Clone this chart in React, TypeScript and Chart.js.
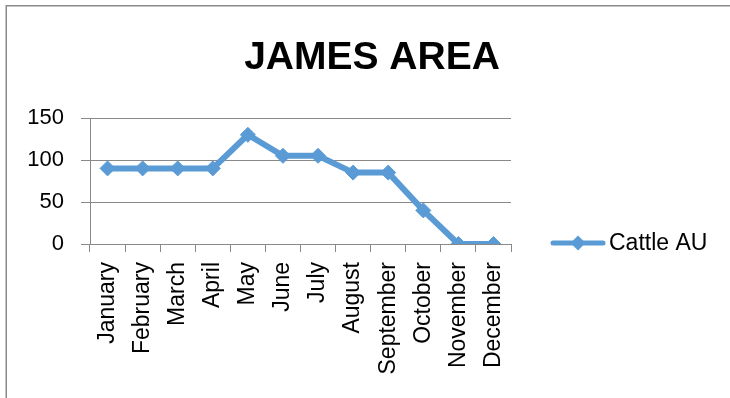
import React, { useEffect, useRef } from "react";
import { Chart, registerables } from "chart.js";

Chart.register(...registerables);

const chartTitle = "JAMES AREA";
const months = [
  "January", "February", "March", "April", "May", "June",
  "July", "August", "September", "October", "November", "December",
];
const seriesName = "Cattle AU";
const cattleAU = [90, 90, 90, 90, 130, 105, 105, 85, 85, 40, 0, 0];
const yMin = 0;
const yMax = 150;
const yStep = 50;

const BLUE = "#5B9BD5";
const GRID = "#898989";
const FONT = "'Liberation Sans', Arial, sans-serif";

const decorPlugin = {
  id: "decor",
  beforeDraw(chart: any) {
    const ctx = chart.ctx;
    ctx.save();
    ctx.fillStyle = "#ffffff";
    ctx.fillRect(0, 0, chart.width, chart.height);
    ctx.strokeStyle = GRID;
    ctx.lineWidth = 1.5;
    ctx.beginPath();
    ctx.moveTo(6.25, chart.height + 2);
    ctx.lineTo(6.25, 5.75);
    ctx.lineTo(chart.width + 2, 5.75);
    ctx.stroke();
    ctx.restore();
  },
  afterDraw(chart: any) {
    const ctx = chart.ctx;
    ctx.save();
    // title
    ctx.fillStyle = "#000";
    ctx.font = `bold 39px ${FONT}`;
    ctx.textAlign = "center";
    ctx.textBaseline = "middle";
    ctx.fillText(chartTitle, 372, 58);
    // legend
    const ly = 243;
    ctx.strokeStyle = BLUE;
    ctx.lineWidth = 5;
    ctx.lineCap = "round";
    ctx.beginPath();
    ctx.moveTo(553, ly);
    ctx.lineTo(603, ly);
    ctx.stroke();
    const r = 7.5;
    ctx.fillStyle = BLUE;
    ctx.beginPath();
    ctx.moveTo(578, ly - r);
    ctx.lineTo(578 + r, ly);
    ctx.lineTo(578, ly + r);
    ctx.lineTo(578 - r, ly);
    ctx.closePath();
    ctx.fill();
    ctx.fillStyle = "#000";
    ctx.font = `23px ${FONT}`;
    ctx.textAlign = "left";
    ctx.fillText(chart.data.datasets[0].label, 609, ly + 1);
    ctx.restore();
  },
};

export default function App() {
  const ref = useRef<HTMLCanvasElement | null>(null);
  useEffect(() => {
    document.body.style.margin = "0";
    const canvas = ref.current!;
    const chart = new Chart(canvas, {
      type: "line",
      data: {
        labels: months,
        datasets: [
          {
            label: seriesName,
            data: cattleAU,
            borderColor: BLUE,
            backgroundColor: BLUE,
            borderWidth: 6,
            pointStyle: "rectRot",
            pointRadius: 7.5,
            pointBorderWidth: 1,
            pointBackgroundColor: BLUE,
            pointBorderColor: BLUE,
            tension: 0,
          },
        ],
      },
      options: {
        animation: false,
        responsive: false,
        devicePixelRatio: 1,
        layout: { padding: { top: 118, right: 219, left: 0, bottom: 0 } },
        plugins: {
          legend: { display: false },
          title: { display: false },
          tooltip: { enabled: false },
        },
        scales: {
          x: {
            offset: true,
            grid: {
              offset: true,
              drawOnChartArea: false,
              drawTicks: true,
              tickLength: 8,
              color: GRID,
              lineWidth: 1,
            },
            border: { color: GRID, width: 1 },
            ticks: {
              autoSkip: false,
              minRotation: 90,
              maxRotation: 90,
              padding: 10,
              color: "#000",
              font: { family: FONT, size: 23 },
            },
            afterFit(scale: any) {
              scale.height = 398 - 244;
            },
          },
          y: {
            min: yMin,
            max: yMax,
            grid: {
              color: GRID,
              lineWidth: 1,
              drawTicks: true,
              tickLength: 9,
            },
            border: { color: GRID, width: 1 },
            ticks: {
              stepSize: yStep,
              padding: 17,
              color: "#000",
              font: { family: FONT, size: 22 },
            },
            afterFit(scale: any) {
              scale.width = 90;
            },
          },
        },
      },
      plugins: [decorPlugin],
    });
    return () => chart.destroy();
  }, []);
  return (
    <div style={{ width: 730, height: 398 }}>
      <canvas ref={ref} width={730} height={398} style={{ display: "block" }} />
    </div>
  );
}
